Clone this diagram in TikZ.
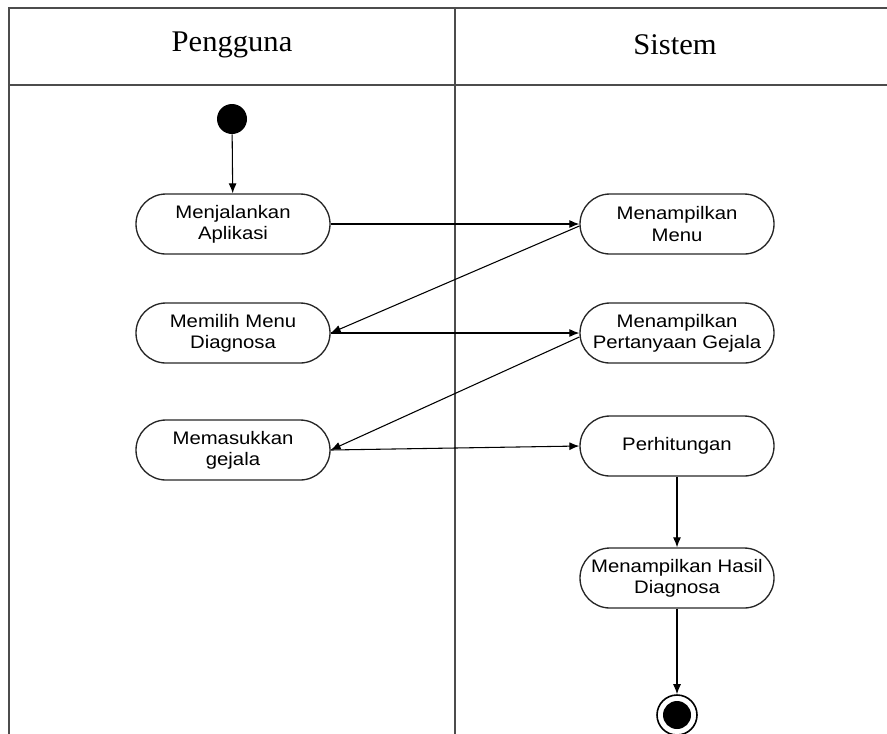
\documentclass[tikz,border=0pt]{standalone}
\usepackage{fontspec}
\setmainfont{Liberation Serif}
\newfontfamily\nodefont[FakeStretch=1.12]{Liberation Sans}
\newfontfamily\headfont[FakeStretch=1.02]{Liberation Serif}
\usetikzlibrary{arrows.meta}
\begin{document}
\begin{tikzpicture}[x=0.75pt,y=-0.75pt,
  lane/.style={draw=black!70,line width=1.4pt},
  act/.style={draw=black!85,line width=1pt,rounded corners=22.5pt,minimum width=145.5pt,minimum height=45pt,align=center,inner sep=0pt,font=\nodefont\fontsize{13.6}{15.8}\selectfont},
  hdr/.style={font=\headfont\fontsize{22.5}{26}\selectfont},
  flow/.style={draw=black,line width=0.8pt,-{Latex[length=7.5pt,width=6pt]}},
  startnode/.style={circle,fill=black,minimum size=22.5pt,inner sep=0pt},
  endnode/.style={circle,draw=black,line width=1.2pt,fill=white,minimum size=30pt,inner sep=0pt}
]
\useasboundingbox (0,0) rectangle (887,733);
% swimlanes
\draw[lane] (887,8) -- (9,8) -- (9,740);
\draw[lane] (455,8) -- (455,740);
\draw[lane] (9,85) -- (887,85);
\node[hdr] (h1) at (232,45) {Pengguna};
\node[hdr] (h2) at (675,45) {Sistem};
% nodes
\node[startnode] (s) at (232,119) {};
\node[act] (a1) at (233,224) {Menjalankan\\Aplikasi};
\node[act] (b1) at (677,224) {Menampilkan\\Menu};
\node[act] (a2) at (233,333) {Memilih Menu\\Diagnosa};
\node[act] (b2) at (677,333) {Menampilkan\\Pertanyaan Gejala};
\node[act] (a3) at (233,450) {Memasukkan\\gejala};
\node[act] (b3) at (677,446) {Perhitungan};
\node[act] (b4) at (677,578) {Menampilkan Hasil\\Diagnosa};
\node[endnode] (e) at (677,715) {};
\fill[black] (e.center) circle (10.5pt);
% connectors
\draw[flow] (s) -- (a1);
\draw[flow] (a1.east) -- (b1.west);
\draw[flow] ([yshift=-1.5pt]b1.west) -- (a2.east);
\draw[flow] (a2.east) -- (b2.west);
\draw[flow] ([yshift=-3pt]b2.west) -- (a3.east);
\draw[flow] (a3.east) -- (b3.west);
\draw[flow] (b3) -- (b4);
\draw[flow] (b4) -- (e);
\end{tikzpicture}
\end{document}
